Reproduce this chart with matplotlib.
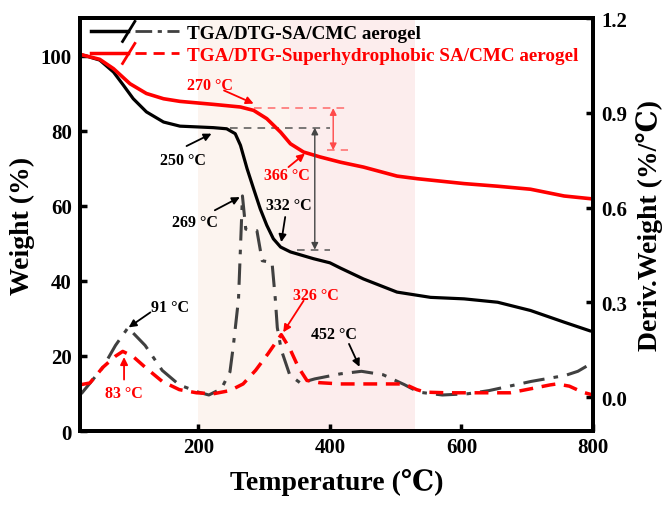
import matplotlib
matplotlib.use("Agg")
import matplotlib.pyplot as plt
from matplotlib.lines import Line2D

plt.rcParams["font.family"] = ["Liberation Serif", "DejaVu Serif"]
plt.rcParams["font.weight"] = "bold"
plt.rcParams["axes.labelweight"] = "bold"

# TGA curves (weight %, left axis)
tga_temp_sa = [25, 50, 71, 86, 101, 121, 147, 172, 198, 223, 243, 256, 264, 274, 284, 294,
               304, 314, 325, 340, 375, 400, 416, 451, 502, 553, 604, 655, 705, 756, 795]
tga_weight_sa = [100.1, 98.8, 95.6, 92.1, 88.5, 85.0, 82.3, 81.2, 81.0, 80.8, 80.5, 79.2, 76.1,
                 69.9, 64.5, 59.2, 54.8, 51.2, 49.0, 47.7, 45.9, 44.8, 43.4, 40.5, 37.0, 35.6,
                 35.2, 34.3, 32.1, 29.0, 26.7]

tga_temp_sh = [25, 50, 71, 96, 121, 147, 172, 223, 264, 284, 304, 325, 340, 360, 385, 416,
               451, 502, 533, 604, 655, 705, 756, 795]
tga_weight_sh = [100.1, 99.0, 96.5, 92.5, 89.9, 88.5, 87.8, 87.0, 86.3, 85.4, 83.2, 79.6, 76.5,
                 74.3, 73.0, 71.6, 70.3, 67.9, 67.2, 65.9, 65.2, 64.4, 62.6, 61.9]

# DTG curves (%/°C, right axis)
dtg_temp_sa = [22, 55, 74, 93, 119, 145, 171, 200, 216, 235, 248, 253, 261, 267, 272, 289,
               297, 312, 317, 320, 326, 339, 355, 377, 416, 448, 481, 513, 535, 571, 610,
               642, 706, 758, 777, 800]
dtg_rate_sa = [0.011, 0.095, 0.164, 0.22, 0.164, 0.085, 0.039, 0.016, 0.007, 0.027, 0.08,
               0.16, 0.31, 0.637, 0.532, 0.527, 0.432, 0.426, 0.31, 0.22, 0.15, 0.07, 0.045,
               0.058, 0.074, 0.082, 0.071, 0.04, 0.016, 0.007, 0.011, 0.021, 0.05, 0.069,
               0.082, 0.11]

dtg_temp_sh = [22, 35, 55, 74, 85, 100, 119, 145, 171, 197, 223, 248, 268, 287, 306, 326,
               339, 352, 365, 384, 416, 513, 532, 545, 577, 674, 706, 735, 745, 764, 784, 800]
dtg_rate_sh = [0.04, 0.045, 0.095, 0.13, 0.145, 0.13, 0.095, 0.05, 0.024, 0.014, 0.011, 0.021,
               0.042, 0.085, 0.138, 0.198, 0.154, 0.095, 0.053, 0.046, 0.042, 0.042, 0.024,
               0.016, 0.014, 0.014, 0.027, 0.039, 0.042, 0.035, 0.016, 0.007]

labels = ["TGA/DTG-SA/CMC aerogel", "TGA/DTG-Superhydrophobic SA/CMC aerogel"]


class SlashHandler:
    # solid line, slash, then the DTG line style
    def __init__(self, color, dtg_color, dtg_ls):
        self.color = color
        self.dtg_color = dtg_color
        self.dtg_ls = dtg_ls

    def legend_artist(self, legend, orig_handle, fontsize, handlebox):
        x0, y0 = handlebox.xdescent, handlebox.ydescent
        w, h = handlebox.width, handlebox.height
        ym = y0 + h / 2
        solid = Line2D([x0, x0 + 0.42 * w], [ym, ym], color=self.color, lw=2.5)
        slash = Line2D([x0 + 0.36 * w, x0 + 0.5 * w], [ym - 0.75 * h, ym + 0.75 * h],
                       color=self.color, lw=2.0)
        dtg = Line2D([x0 + 0.5 * w, x0 + w], [ym, ym], color=self.dtg_color, lw=2.0,
                     linestyle=self.dtg_ls)
        for a in (solid, slash, dtg):
            handlebox.add_artist(a)
        return solid


fig = plt.figure(figsize=(6.66, 5.10), dpi=100)
ax = fig.add_axes([0.1201, 0.1529, 0.7703, 0.8098])
ax2 = ax.twinx()

ax.axvspan(200, 340, color="#FCF4EF", zorder=0, lw=0)
ax.axvspan(340, 530, color="#FCEDED", zorder=0, lw=0)

l1, = ax.plot(tga_temp_sa, tga_weight_sa, color="black", lw=2.3, zorder=3)
l2, = ax.plot(tga_temp_sh, tga_weight_sh, color="#FF0000", lw=2.6, zorder=3)
ax2.plot(dtg_temp_sa, dtg_rate_sa, color="#404040", lw=2.2, linestyle=(0, (7, 3, 1.5, 3)))
ax2.plot(dtg_temp_sh, dtg_rate_sh, color="#FF0000", lw=2.5, linestyle=(0, (4, 2.5)))

# reference lines for the weight loss steps
ax.plot([248, 400], [80.8, 80.8], color="#555555", lw=1.1, linestyle=(0, (5, 4)))
ax.plot([350, 400], [48.3, 48.3], color="#555555", lw=1.1, linestyle=(0, (5, 4)))
ax.annotate("", xy=(377, 48.3), xytext=(377, 80.8),
            arrowprops=dict(arrowstyle="<|-|>", color="#444444", lw=1.0,
                            shrinkA=0, shrinkB=0, mutation_scale=10))
ax.plot([284, 428], [86.0, 86.0], color="#FF6A6A", lw=1.1, linestyle=(0, (5, 4)))
ax.plot([395, 428], [74.8, 74.8], color="#FF6A6A", lw=1.1, linestyle=(0, (5, 4)))
ax.annotate("", xy=(405, 74.8), xytext=(405, 86.0),
            arrowprops=dict(arrowstyle="<|-|>", color="#FF4A4A", lw=1.0,
                            shrinkA=0, shrinkB=0, mutation_scale=10))

# peak / onset annotations
notes = [
    ("270 °C", (218, 92.1), (284, 87.2), (239, 90.7), "#FF0000"),
    ("250 °C", (177, 72.1), (220, 79.2), (182, 75.9), "black"),
    ("366 °C", (335, 68.1), (362, 73.9), (337, 70.3), "#FF0000"),
    ("269 °C", (195, 55.6), (263, 62.3), (225, 58.8), "black"),
    ("332 °C", (337, 60.1), (326, 50.3), (332, 57.0), "black"),
    ("326 °C", (378, 36.1), (329, 26.3), (360, 34.7), "#FF0000"),
    ("91 °C", (157, 33.0), (94, 27.6), (127, 31.6), "black"),
    ("452 °C", (406, 25.9), (445, 17.1), (429, 23.2), "black"),
    ("83 °C", (87, 10.2), (87, 19.7), (87, 13.7), "#FF0000"),
]
for text, tpos, tip, tail, c in notes:
    ax.text(tpos[0], tpos[1], text, color=c, fontsize=11.5, fontweight="bold",
            ha="center", va="center", zorder=5)
    ax.annotate("", xy=tip, xytext=tail,
                arrowprops=dict(arrowstyle="-|>", color=c, lw=1.3, shrinkA=0, shrinkB=0,
                                mutation_scale=11), zorder=5)

ax.set_xlim(20, 800)
ax.set_ylim(0, 110)
ax2.set_ylim(-0.107, 1.2)
ax.set_xticks([200, 400, 600, 800])
ax.set_yticks([0, 20, 40, 60, 80, 100])
ax2.set_yticks([0.0, 0.3, 0.6, 0.9, 1.2])
ax2.set_yticklabels(["0.0", "0.3", "0.6", "0.9", "1.2"])

for a in (ax, ax2):
    for s in a.spines.values():
        s.set_linewidth(2.8)
    a.tick_params(direction="in", length=5, width=2.5, labelsize=15, pad=6)
ax.tick_params(axis="x", pad=4)
ax.tick_params(right=False, top=False)

ax.set_xlabel("Temperature (℃)", fontsize=20, fontweight="bold", labelpad=8)
ax.set_ylabel("Weight (%)", fontsize=20, fontweight="bold", labelpad=4)
ax2.set_ylabel("Deriv.Weight (%/℃)", fontsize=20, fontweight="bold", labelpad=6)

leg = ax.legend([l1, l2], labels, loc="upper left", frameon=False, fontsize=13.8,
                handlelength=4.6, handletextpad=0.4, labelspacing=0.24,
                borderaxespad=0.1, borderpad=0.25, bbox_to_anchor=(0.008, 1.0),
                handler_map={l1: SlashHandler("black", "#404040", (0, (6, 2, 1.5, 2))),
                             l2: SlashHandler("#FF0000", "#FF0000", (0, (4, 2.5)))})
for t, c in zip(leg.get_texts(), ["black", "#FF0000"]):
    t.set_color(c)
    t.set_fontweight("bold")

fig.savefig("out.png", dpi=100)
